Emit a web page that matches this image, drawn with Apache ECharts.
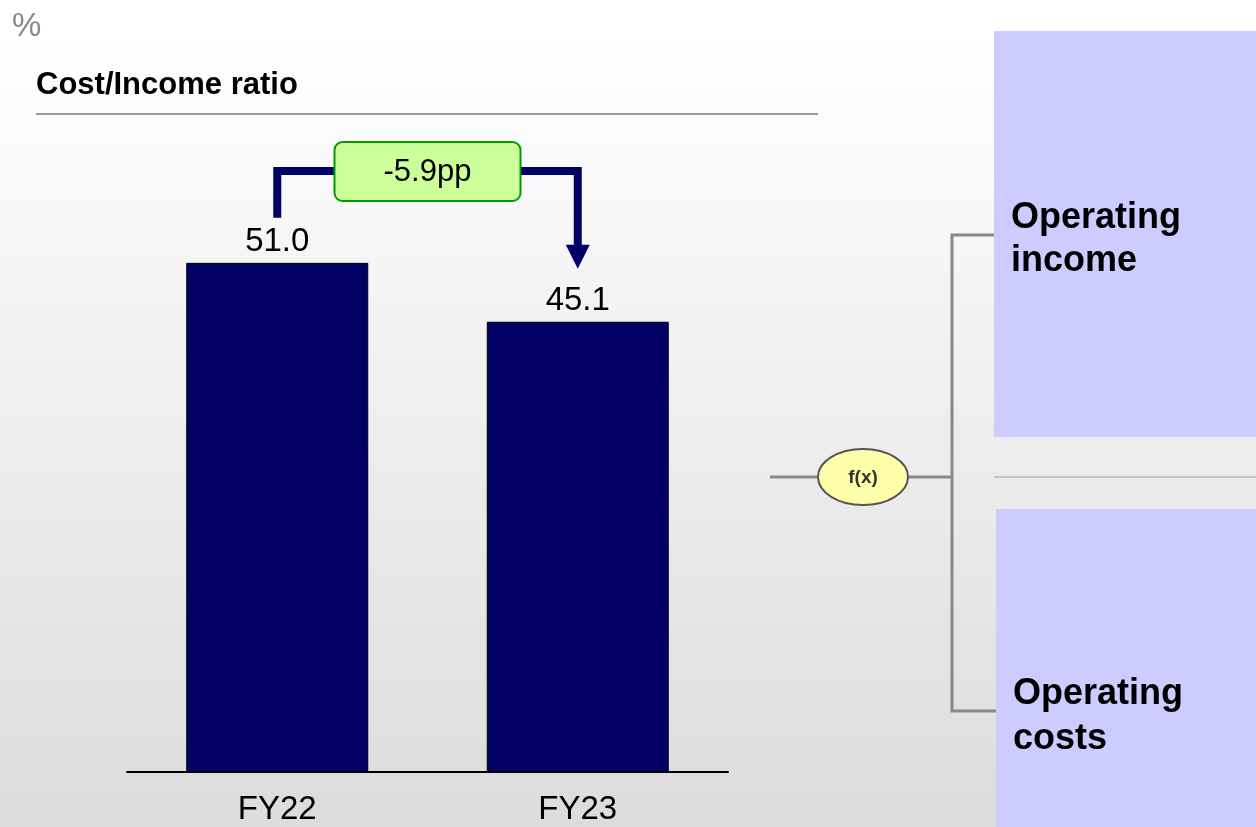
<!DOCTYPE html>
<html>
<head>
<meta charset="utf-8">
<script src="https://cdn.jsdelivr.net/npm/echarts@6/dist/echarts.min.js"></script>
<style>
  html, body { margin: 0; padding: 0; }
  #chart { width: 1256px; height: 827px; }
</style>
</head>
<body>
<div id="chart"></div>
<script>
// Cost/Income ratio, % by fiscal year
const categories = ['FY22', 'FY23'];
const ratioValues = [51.0, 45.1];
const unitLabel = '%';
const chartTitle = 'Cost/Income ratio';
const driverLabels = ['Operating\nincome', 'Operating\ncosts'];
const functionLabel = 'f(x)';

const FONT = '"Liberation Sans", Arial, sans-serif';
const NAVY = '#000066';
const LINK = '#888888';

const change = ratioValues[1] - ratioValues[0];
const changeLabel = (change > 0 ? '+' : '') + change.toFixed(1) + 'pp';

const chart = echarts.init(document.getElementById('chart'), null, { renderer: 'canvas' });

const baseOption = {
  animation: false,
  backgroundColor: new echarts.graphic.LinearGradient(0, 0, 0, 1, [
    { offset: 0, color: '#ffffff' },
    { offset: 0.04, color: '#ffffff' },
    { offset: 1, color: '#dcdcdc' }
  ]),
  grid: { left: 127, width: 601, top: 173, bottom: 55 },
  xAxis: {
    type: 'category',
    data: categories,
    axisLine: { lineStyle: { color: '#000', width: 2 } },
    axisTick: { show: false },
    axisLabel: { color: '#000', fontSize: 33, fontFamily: FONT, margin: 21 }
  },
  yAxis: {
    type: 'value', min: 0, max: 60,
    show: false, splitLine: { show: false }
  },
  series: [{
    type: 'bar',
    data: ratioValues,
    barWidth: 182,
    itemStyle: { color: NAVY, borderColor: '#000', borderWidth: 1 },
    label: {
      show: true, position: 'top', distance: 4,
      color: '#000', fontSize: 33, fontFamily: FONT,
      formatter: p => p.value.toFixed(1)
    }
  }]
};

chart.setOption(baseOption);

// Change bracket between the two bar tops
const p0 = chart.convertToPixel({ seriesIndex: 0 }, [0, ratioValues[0]]);
const p1 = chart.convertToPixel({ seriesIndex: 0 }, [1, ratioValues[1]]);
const bracketY = 171;
const tipY = p1[1] - 53;
const boxCx = (p0[0] + p1[0]) / 2;

const graphics = [
  // unit and title
  { type: 'text', left: 12, top: 10, style: { text: unitLabel, fill: '#888', font: '33px ' + FONT } },
  { type: 'text', left: 36, top: 70, style: { text: chartTitle, fill: '#000', font: 'bold 31px ' + FONT } },
  { type: 'line', shape: { x1: 36, y1: 114, x2: 818, y2: 114 }, style: { stroke: '#999', lineWidth: 2 } },

  // bracket arrow
  { type: 'polyline', shape: { points: [[p0[0], p0[1] - 45], [p0[0], bracketY], [p1[0], bracketY], [p1[0], tipY - 22]] },
    style: { stroke: NAVY, lineWidth: 8, fill: null, lineJoin: 'miter' } },
  { type: 'polygon', shape: { points: [[p1[0] - 12, tipY - 24], [p1[0] + 12, tipY - 24], [p1[0], tipY]] },
    style: { fill: NAVY } },
  { type: 'rect', shape: { x: boxCx - 93, y: 142, width: 186, height: 59, r: 8 },
    style: { fill: '#ccff99', stroke: '#009900', lineWidth: 2 } },
  { type: 'text', x: boxCx, y: 172, style: { text: changeLabel, fill: '#000', font: '31px ' + FONT, align: 'center', verticalAlign: 'middle' } },

  // driver boxes
  { type: 'rect', shape: { x: 994, y: 31, width: 262, height: 406 }, style: { fill: '#ccccff' } },
  { type: 'rect', shape: { x: 996, y: 509, width: 260, height: 318 }, style: { fill: '#ccccff' } },
  { type: 'line', shape: { x1: 994, y1: 477, x2: 1256, y2: 477 }, style: { stroke: '#c4c4c4', lineWidth: 2 } },
  { type: 'text', left: 1011, top: 197, style: { text: driverLabels[0], fill: '#000', font: 'bold 36px ' + FONT, lineHeight: 43 } },
  { type: 'text', left: 1013, top: 672, style: { text: driverLabels[1], fill: '#000', font: 'bold 36px ' + FONT, lineHeight: 45 } },

  // function tree connectors
  { type: 'line', shape: { x1: 770, y1: 477, x2: 952, y2: 477 }, style: { stroke: LINK, lineWidth: 3 } },
  { type: 'polyline', shape: { points: [[994, 235], [952, 235], [952, 711], [996, 711]] },
    style: { stroke: LINK, lineWidth: 3, fill: null } },
  { type: 'ellipse', shape: { cx: 863, cy: 477, rx: 45, ry: 28 },
    style: { fill: '#ffffaa', stroke: '#555', lineWidth: 2 } },
  { type: 'text', x: 863, y: 478, style: { text: functionLabel, fill: '#333', font: 'bold 19px ' + FONT, align: 'center', verticalAlign: 'middle' } }
];

chart.setOption({ graphic: graphics });
</script>
</body>
</html>
